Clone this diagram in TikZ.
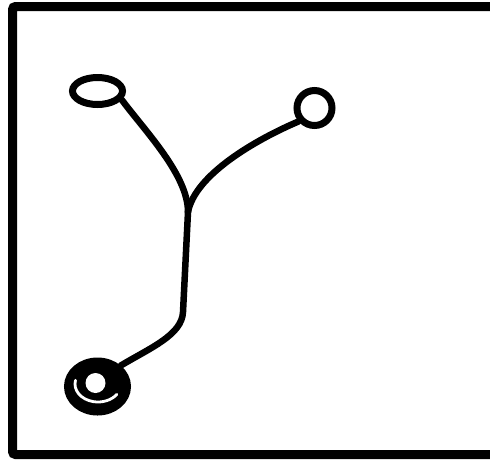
\documentclass[tikz,border=0pt]{standalone}
\usepackage{tikz}
\usetikzlibrary{shapes.geometric,calc}
\definecolor{Ink}{HTML}{000000}
\definecolor{Paper}{HTML}{FFFFFF}
\tikzset{
  rim/.style={draw=Ink,line width=9pt,rounded corners=3pt},
  bud/.style={ellipse,draw=Ink,line width=7pt,fill=Paper,inner sep=0pt},
  knob/.style={circle,draw=Ink,line width=7pt,fill=Paper,inner sep=0pt,minimum size=35pt},
  bulb/.style={ellipse,draw=Ink,fill=Ink,line width=7pt,inner sep=0pt,minimum width=60pt,minimum height=51pt},
  hole/.style={circle,fill=Paper,draw=none,inner sep=0pt,minimum size=20pt},
  stalk/.style={draw=Ink,line width=6.5pt,line cap=round,line join=round},
  gap/.style={draw=Paper,line width=2.8pt,line cap=round}
}
\begin{document}
\begin{tikzpicture}[x=1pt,y=-1pt]
        \useasboundingbox[fill=Paper] (0,0) rectangle (490,459);
        \draw[rim] (490,6.5) -- (12.5,6.5) -- (12.5,454.5) -- (490,454.5);
        % ends of the branches
        \node[bud,minimum width=50pt,minimum height=27pt] (left) at (97.5,91) {};
        \node[knob] (right) at (314.5,108) {};
        \node[bulb] (foot) at (97.5,386.5) {};
        \node[hole] (eye) at (95.5,383) {};
        \coordinate (fork) at (188,212);
        \coordinate (bend) at (183,312);
        % branches and stem
        \draw[stalk] (left.-20) .. controls (145,131) and (188,175) .. (fork);
        \draw[stalk] (right.220) .. controls (255,140) and (195,175) .. (fork);
        \draw[stalk] (fork) -- (bend) .. controls (182,335) and (150,348) .. (foot.42);
        \draw[gap] (98,384) ++(192:23 and 18) arc[start angle=192,end angle=35,x radius=23,y radius=18];
      \end{tikzpicture}
\end{document}
